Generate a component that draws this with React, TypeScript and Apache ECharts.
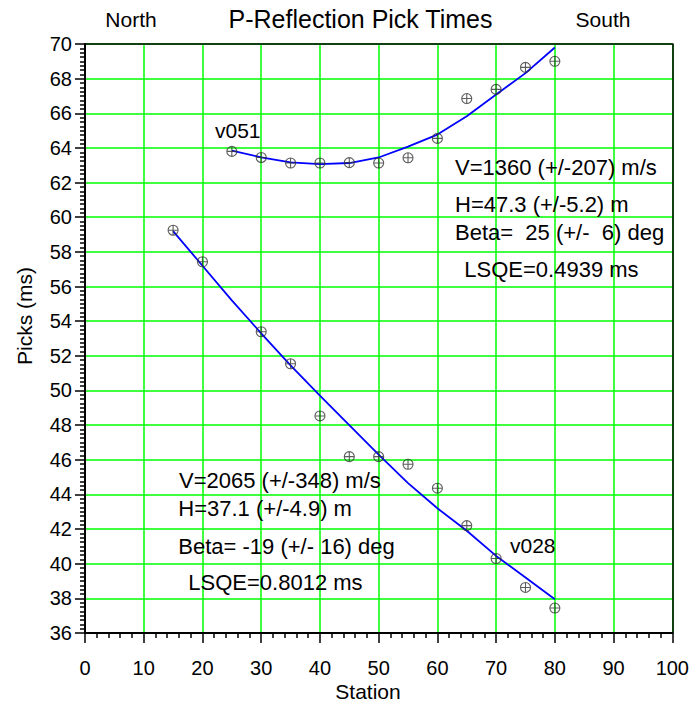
import React, { useEffect, useRef } from "react";
import * as echarts from "echarts";

// Upper reflection (v051) picks
const upperStations = [25, 30, 35, 40, 45, 50, 55, 60, 65, 70, 75, 80];
const upperPicks = [63.8, 63.45, 63.13, 63.13, 63.15, 63.13, 63.43, 64.55, 66.85, 67.38, 68.65, 69.0];
// Upper fitted curve
const upperFitStations = [25, 30, 35, 40, 45, 50, 55, 60, 65, 70, 75, 80];
const upperFit = [63.84, 63.46, 63.17, 63.06, 63.13, 63.45, 64.08, 64.77, 65.83, 67.08, 68.32, 69.8];

// Lower reflection (v028) picks
const lowerStations = [15, 20, 30, 35, 40, 45, 50, 55, 60, 65, 70, 75, 80];
const lowerPicks = [59.25, 57.43, 53.39, 51.54, 48.53, 46.18, 46.18, 45.74, 44.36, 42.2, 40.3, 38.63, 37.44];
// Lower fitted curve
const lowerFitStations = [15, 20, 25, 30, 35, 40, 45, 50, 55, 60, 65, 70, 75, 80];
const lowerFit = [59.2, 57.2, 55.2, 53.3, 51.45, 49.7, 48.0, 46.3, 44.65, 43.2, 41.9, 40.45, 39.2, 37.95];

const xTicks = { min: 0, max: 100, interval: 10 };
const yTicks = { min: 36, max: 70, interval: 2 };

const upperNotes = ["V=1360 (+/-207) m/s", "H=47.3 (+/-5.2) m", "Beta=  25 (+/-  6) deg", "LSQE=0.4939 ms"];
const lowerNotes = ["V=2065 (+/-348) m/s", "H=37.1 (+/-4.9) m", "Beta= -19 (+/- 16) deg", "LSQE=0.8012 ms"];

const FONT = "'Liberation Sans', Arial, sans-serif";
const MARK = "path://M0,-5A5,5 0 1,1 0,5A5,5 0 1,1 0,-5ZM-5,0L5,0M0,-5L0,5";

const zip = (a: number[], b: number[]) => a.map((v, i) => [v, b[i]]);

export default function App() {
  const ref = useRef<HTMLDivElement>(null);
  useEffect(() => {
    if (!ref.current) return;
    const chart = echarts.init(ref.current, null, { renderer: "svg" });
    const txt = (text: string, x: number, y: number, size: number, align = "left", extra: any = {}) => ({
      type: "text",
      x,
      y,
      z: 100,
      ...extra,
      style: { text, font: `${size}px ${FONT}`, fill: "#000", align, verticalAlign: "middle" },
    });
    const scatterStyle = {
      color: "transparent",
      borderColor: "#333",
      borderWidth: 1.1,
    };
    chart.setOption({
      animation: false,
      backgroundColor: "#fff",
      grid: { left: 85, top: 44, width: 590, height: 589, containLabel: false },
      xAxis: [
        {
          type: "value",
          min: xTicks.min,
          max: xTicks.max,
          interval: xTicks.interval,
          axisLine: { show: true, onZero: false, lineStyle: { color: "#000", width: 2 } },
          axisTick: { show: true, inside: false, length: 10, lineStyle: { color: "#000", width: 1.5 } },
          minorTick: { show: true, splitNumber: 5, length: 5, lineStyle: { color: "#000", width: 1.5 } },
          axisLabel: { color: "#000", fontSize: 20, fontFamily: FONT, margin: 25 },
          splitLine: { show: true, lineStyle: { color: "#00ff00", width: 1.5 } },
        },
        {
          type: "value",
          position: "top",
          min: xTicks.min,
          max: xTicks.max,
          axisLine: { show: true, onZero: false, lineStyle: { color: "#000", width: 1.5 } },
          axisTick: { show: false },
          axisLabel: { show: false },
          splitLine: { show: false },
          z: 5,
        },
      ],
      yAxis: [
        {
          type: "value",
          min: yTicks.min,
          max: yTicks.max,
          interval: yTicks.interval,
          axisLine: { show: true, onZero: false, lineStyle: { color: "#000", width: 2 } },
          axisTick: { show: true, inside: false, length: 10, lineStyle: { color: "#000", width: 1.5 } },
          minorTick: { show: true, splitNumber: 8, length: 5, lineStyle: { color: "#000", width: 1.5 } },
          axisLabel: { color: "#000", fontSize: 20, fontFamily: FONT, margin: 13 },
          splitLine: { show: true, lineStyle: { color: "#00ff00", width: 1.5 } },
        },
        {
          type: "value",
          position: "right",
          min: yTicks.min,
          max: yTicks.max,
          axisLine: { show: true, onZero: false, lineStyle: { color: "#000", width: 1.5 } },
          axisTick: { show: false },
          axisLabel: { show: false },
          splitLine: { show: false },
          z: 5,
        },
      ],
      series: [
        {
          type: "line",
          data: zip(upperFitStations, upperFit),
          showSymbol: false,
          symbol: "none",
          lineStyle: { color: "#0000ff", width: 1.8 },
          z: 3,
        },
        {
          type: "line",
          data: zip(lowerFitStations, lowerFit),
          showSymbol: false,
          symbol: "none",
          lineStyle: { color: "#0000ff", width: 1.8 },
          z: 3,
        },
        {
          type: "scatter",
          data: zip(upperStations, upperPicks),
          symbol: MARK,
          symbolSize: 10,
          itemStyle: scatterStyle,
          z: 4,
        },
        {
          type: "scatter",
          data: zip(lowerStations, lowerPicks),
          symbol: MARK,
          symbolSize: 10,
          itemStyle: scatterStyle,
          z: 4,
        },
      ],
      graphic: [
        txt("North", 131, 19.7, 21, "center"),
        txt("P-Reflection Pick Times", 360.5, 18.5, 25, "center"),
        txt("South", 603, 19.7, 21, "center"),
        txt("Station", 368, 691.7, 21, "center"),
        txt("Picks (ms)", 24, 316, 21, "center", { rotation: Math.PI / 2 }),
        txt("v051", 215, 130, 21),
        txt("v028", 510, 545.3, 21),
        txt(upperNotes[0], 455, 167.3, 22),
        txt(upperNotes[1], 455, 204, 22),
        txt(upperNotes[2], 455, 232.3, 22),
        txt(upperNotes[3], 464.3, 269, 22),
        txt(lowerNotes[0], 179, 480.6, 22),
        txt(lowerNotes[1], 178.3, 508.3, 22),
        txt(lowerNotes[2], 178.3, 546.3, 22),
        txt(lowerNotes[3], 188.3, 582.3, 22),
      ],
    });
    return () => chart.dispose();
  }, []);
  return <div ref={ref} style={{ position: "absolute", left: 0, top: 0, width: 692, height: 704 }} />;
}
